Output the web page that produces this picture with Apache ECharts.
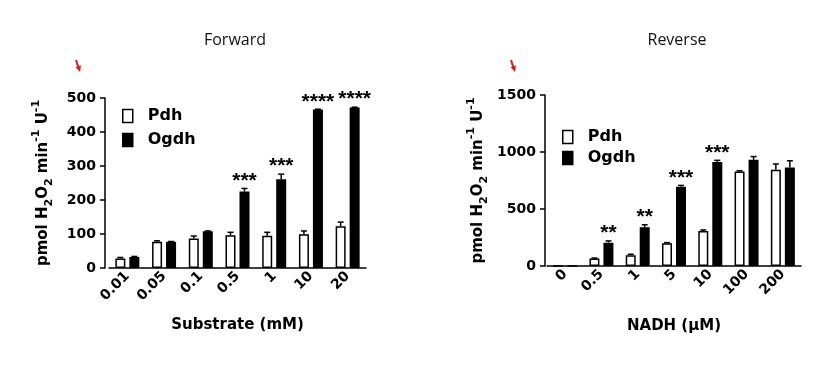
<!DOCTYPE html>
<html>
<head>
<meta charset="utf-8">
<script src="https://cdn.jsdelivr.net/npm/echarts@6/dist/echarts.min.js"></script>
<style>
html,body{margin:0;padding:0;background:#fff;}
#chart{width:838px;height:365px;}
</style>
</head>
<body>
<div id="chart"></div>
<script>
// ---- Data ----
const categoriesFwd = ['0.01', '0.05', '0.1', '0.5', '1', '10', '20'];
const pdhFwd = [28, 77, 87, 96, 95, 99, 123];
const pdhFwdErr = [3, 3, 7, 9, 10, 10, 12];
const ogdhFwd = [32, 77, 108, 225, 261, 466, 472];
const ogdhFwdErr = [2, 1, 1, 9, 15, 1, 1];
const sigFwd = ['', '', '', '***', '***', '****', '****'];

const categoriesRev = ['0', '0.5', '1', '5', '10', '100', '200'];
const pdhRev = [0, 65, 95, 200, 308, 830, 845];
const pdhRevErr = [0, 5, 8, 5, 8, 5, 50];
const ogdhRev = [0, 205, 340, 695, 912, 932, 865];
const ogdhRevErr = [0, 15, 22, 12, 15, 28, 58];
const sigRev = ['', '**', '**', '***', '***', '', ''];

const seriesNames = ['Pdh', 'Ogdh'];
const titles = ['Forward', 'Reverse'];
const xNames = ['Substrate (mM)', 'NADH (\u00b5M)'];
const yTicksFwd = {min: 0, max: 500, interval: 100};
const yTicksRev = {min: 0, max: 1500, interval: 500};

// ---- Styles ----
const FONT = 'DejaVu Sans';
const BAR_W = 10;
const BAR_GAP = '40%';
const HALF_OFFSET = 7; // half of (bar width + gap)

function errRender(offset, sigs) {
  return function (params, api) {
    const i = api.value(0), v = api.value(1), e = api.value(2);
    const base = api.coord([i, v]);
    const top = api.coord([i, v + e]);
    const x = base[0] + offset;
    const children = [];
    if (e > 0) {
      children.push({type: 'line', shape: {x1: x, y1: base[1], x2: x, y2: top[1]}, style: {stroke: '#000', lineWidth: 1.5}});
      children.push({type: 'line', shape: {x1: x - 3, y1: top[1], x2: x + 3, y2: top[1]}, style: {stroke: '#000', lineWidth: 1.5}});
    }
    const s = sigs[params.dataIndex];
    if (s) {
      children.push({type: 'text', x: x, y: top[1] + 3,
        style: {text: s, fill: '#000', font: 'bold 21px "Liberation Sans"', align: 'center', verticalAlign: 'bottom'}});
    }
    return {type: 'group', children: children};
  };
}

function errData(vals, errs) {
  return vals.map((v, i) => [i, v, errs[i]]);
}

const yName = '{t|pmol H}{sub|2}{t|O}{sub|2}{t| min}{sup|-1}{t| U}{sup|-1}';
const yNameRich = {
  t: {fontFamily: FONT, fontWeight: 'bold', fontSize: 15, lineHeight: 24, color: '#000'},
  sub: {fontFamily: FONT, fontWeight: 'bold', fontSize: 11, lineHeight: 11, verticalAlign: 'bottom', color: '#000'},
  sup: {fontFamily: FONT, fontWeight: 'bold', fontSize: 11, lineHeight: 11, verticalAlign: 'top', color: '#000'}
};

function xAxisOpt(gi, cats, name, nameGap) {
  return {
    type: 'category', gridIndex: gi, data: cats,
    name: name, nameLocation: 'middle', nameGap: nameGap,
    nameTextStyle: {fontFamily: FONT, fontWeight: 'bold', fontSize: 15, color: '#000'},
    axisLine: {lineStyle: {color: '#000', width: 1.5}},
    axisTick: {alignWithLabel: true, length: 4, lineStyle: {color: '#000', width: 1.5}},
    axisLabel: {rotate: 45, margin: 6, fontFamily: FONT, fontWeight: 'bold', fontSize: 14, color: '#000', interval: 0},
    splitLine: {show: false}
  };
}

function yAxisOpt(gi, ticks, nameGap, offset) {
  return {
    type: 'value', gridIndex: gi, min: ticks.min, max: ticks.max, interval: ticks.interval,
    offset: offset,
    name: yName, nameLocation: 'middle', nameGap: nameGap, nameRotate: 90,
    nameTextStyle: {rich: yNameRich},
    axisLine: {show: true, lineStyle: {color: '#000', width: 1.5}},
    axisTick: {show: true, length: 5, lineStyle: {color: '#000', width: 1.5}},
    axisLabel: {margin: 9, fontFamily: FONT, fontWeight: 'bold', fontSize: 14, color: '#000',
      formatter: function (v) { return String(v); }},
    splitLine: {show: false}
  };
}

function legendOpt(left, top, gap) {
  return {
    left: left, top: top, orient: 'vertical', itemWidth: 10, itemHeight: 13, itemGap: gap,
    selectedMode: false,
    textStyle: {fontFamily: FONT, fontWeight: 'bold', fontSize: 16, color: '#000', padding: [0, 0, 0, 10]},
    data: [
      {name: seriesNames[0], icon: 'rect', itemStyle: {color: '#fff', borderColor: '#000', borderWidth: 1.5}},
      {name: seriesNames[1], icon: 'rect', itemStyle: {color: '#000', borderColor: '#000', borderWidth: 1.5}}
    ]
  };
}

function barSeries(gi, name, data, fill) {
  return {
    type: 'bar', name: name, xAxisIndex: gi, yAxisIndex: gi, data: data,
    barWidth: BAR_W, barGap: BAR_GAP,
    itemStyle: {color: fill, borderColor: '#000', borderWidth: 1.5},
    emphasis: {disabled: true}
  };
}

function errSeries(gi, vals, errs, offset, sigs) {
  return {
    type: 'custom', xAxisIndex: gi, yAxisIndex: gi, data: errData(vals, errs),
    renderItem: errRender(offset, sigs), clip: false, z: 5, silent: true
  };
}

function arrow(x, y) {
  return {
    type: 'group', x: x, y: y, children: [
      {type: 'line', shape: {x1: 0, y1: 0, x2: 2.5, y2: 8}, style: {stroke: '#d41f1f', lineWidth: 2}},
      {type: 'polygon', shape: {points: [[-0.5, 7], [5, 5.5], [4, 12]]}, style: {fill: '#d41f1f'}}
    ]
  };
}

const chart = echarts.init(document.getElementById('chart'), null, {renderer: 'canvas'});
chart.setOption({
  animation: false,
  backgroundColor: '#fff',
  title: [
    {text: titles[0], left: 230, top: 27, textAlign: 'center',
      textStyle: {fontFamily: 'Open Sans', fontWeight: 500, fontSize: 16, color: '#111'}},
    {text: titles[1], left: 672, top: 27, textAlign: 'center',
      textStyle: {fontFamily: 'Open Sans', fontWeight: 500, fontSize: 16, color: '#111'}}
  ],
  legend: [legendOpt(117, 103, 8), legendOpt(557, 124, 5)],
  grid: [
    {left: 109, top: 98, width: 257, height: 170, containLabel: false},
    {left: 547, top: 95, width: 254, height: 171, containLabel: false}
  ],
  xAxis: [xAxisOpt(0, categoriesFwd, xNames[0], 50), xAxisOpt(1, categoriesRev, xNames[1], 53)],
  yAxis: [yAxisOpt(0, yTicksFwd, 50, 4), yAxisOpt(1, yTicksRev, 55, 2)],
  series: [
    barSeries(0, seriesNames[0], pdhFwd, '#fff'),
    barSeries(0, seriesNames[1], ogdhFwd, '#000'),
    errSeries(0, pdhFwd, pdhFwdErr, -HALF_OFFSET, []),
    errSeries(0, ogdhFwd, ogdhFwdErr, HALF_OFFSET, sigFwd),
    barSeries(1, seriesNames[0], pdhRev, '#fff'),
    barSeries(1, seriesNames[1], ogdhRev, '#000'),
    errSeries(1, pdhRev, pdhRevErr, -HALF_OFFSET, []),
    errSeries(1, ogdhRev, ogdhRevErr, HALF_OFFSET, sigRev)
  ],
  graphic: [arrow(76, 60), arrow(511, 60)]
});
</script>
</body>
</html>
